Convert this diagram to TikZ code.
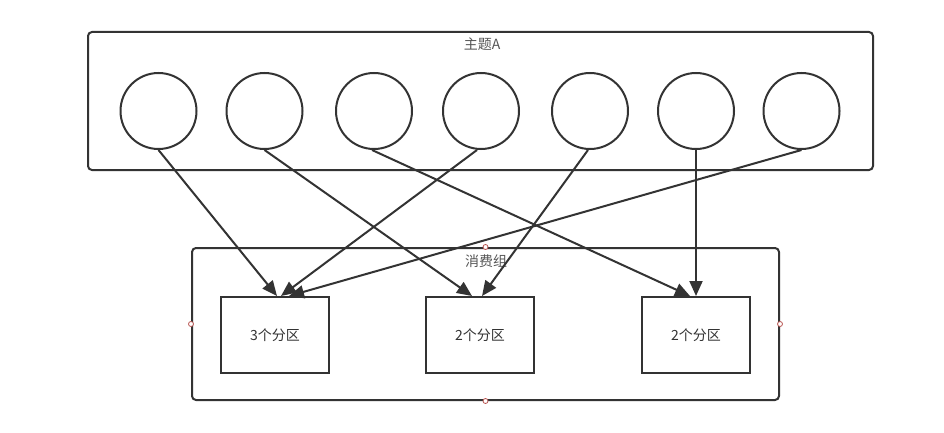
\documentclass[tikz,border=0pt]{standalone}
\usepackage{fontspec}
\newfontfamily\cjk{Noto Sans CJK SC}
\usetikzlibrary{arrows.meta}
\definecolor{ln}{HTML}{333333}
\definecolor{tx}{HTML}{333333}
\definecolor{tt}{HTML}{555555}
\definecolor{pt}{HTML}{B85450}
\begin{document}
\begin{tikzpicture}[x=1pt,y=-1pt,
  frame/.style={draw=ln,line width=2pt,rounded corners=4pt},
  part/.style={draw=ln,line width=2pt,minimum width=108pt,minimum height=76pt,inner sep=0pt,font=\cjk\fontsize{14}{16}\selectfont,text=tx},
  msg/.style={circle,draw=ln,line width=2pt,minimum size=76pt,inner sep=0pt},
  ttl/.style={font=\cjk\fontsize{14}{16}\selectfont,text=tt,inner sep=0pt},
  arr/.style={draw=ln,line width=2pt,-{Triangle[length=15pt,width=13pt]}},
  pin/.style={circle,draw=pt,fill=white,line width=0.8pt,minimum size=5pt,inner sep=0pt}]
\useasboundingbox (0,0) rectangle (944,433);
% topic frame
\node[frame,minimum width=785pt,minimum height=138pt,inner sep=0pt] (topic) at (480.5,101) {};
\node[ttl] (tname) at (482,44) {主题A};
% consumer group frame
\node[frame,minimum width=587pt,minimum height=152pt,inner sep=0pt] (group) at (485.5,324) {};
\node[ttl] (gname) at (486,261) {消费组};
\node[pin] (g1) at (group.north) {};
\node[pin] (g2) at (group.west) {};
\node[pin] (g3) at (group.east) {};
\node[pin] (g4) at (group.south) {};
% messages
\node[msg] (c1) at (158.5,111) {};
\node[msg] (c2) at (264.5,111) {};
\node[msg] (c3) at (374,111) {};
\node[msg] (c4) at (481,111) {};
\node[msg] (c5) at (590,111) {};
\node[msg] (c6) at (696,111) {};
\node[msg] (c7) at (801.5,111) {};
% partitions
\node[part] (p1) at (275,335) {3个分区};
\node[part] (p2) at (480,335) {2个分区};
\node[part] (p3) at (696,335) {2个分区};
% arrows
\draw[arr] (c1.south) -- ([xshift=2pt]p1.north);
\draw[arr] ([xshift=-4pt]c4.south) -- ([xshift=6pt]p1.north);
\draw[arr] (c7.south) -- ([xshift=14pt]p1.north);
\draw[arr] (c2.south) -- ([xshift=-8pt]p2.north);
\draw[arr] ([xshift=-2pt]c5.south) -- ([xshift=2pt]p2.north);
\draw[arr] ([xshift=-2pt]c3.south) -- ([xshift=-6pt]p3.north);
\draw[arr] (c6.south) -- (p3.north);
\end{tikzpicture}
\end{document}
